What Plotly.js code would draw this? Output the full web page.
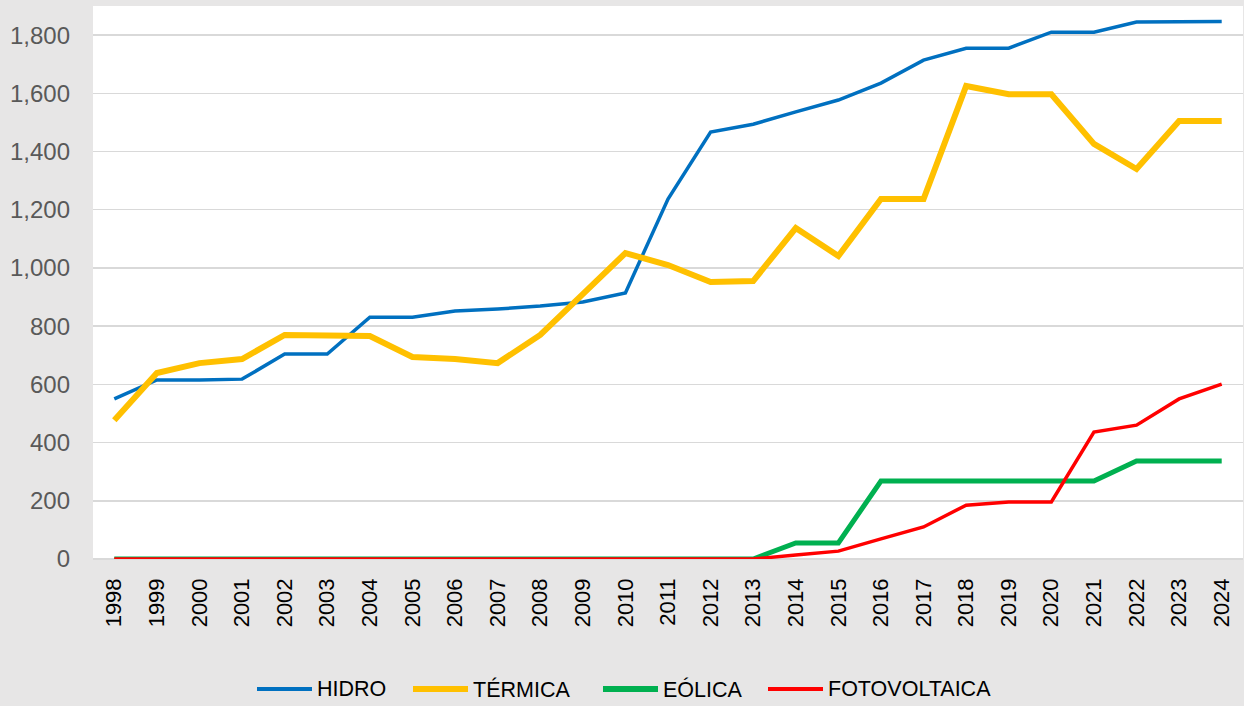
<!DOCTYPE html>
<html>
<head>
<meta charset="utf-8">
<script src="https://cdn.plot.ly/plotly-3.0.1.min.js"></script>
<style>html,body{margin:0;padding:0;background:#E7E6E6;}#chart{width:1244px;height:706px;}</style>
</head>
<body>
<div id="chart"></div>
<script>
var years = ["1998","1999","2000","2001","2002","2003","2004","2005","2006","2007","2008","2009","2010","2011","2012","2013","2014","2015","2016","2017","2018","2019","2020","2021","2022","2023","2024"];
var hidro = [550,615,615,618,704,704,831,831,852,859,869,883,914,1237,1467,1494,1536,1577,1635,1714,1755,1755,1810,1810,1845,1847,1847];
var termica = [477,639,673,687,770,770,766,694,687,673,770,910,1051,1010,952,955,1137,1041,1237,1237,1625,1597,1597,1426,1340,1505,1505];
var eolica = [0,0,0,0,0,0,0,0,0,0,0,0,0,0,0,0,55,55,268,268,268,268,268,268,337,337,337];
var fotovoltaica = [0,0,0,0,0,0,0,0,0,0,0,0,0,0,0,0,14,27,69,110,185,196,196,436,460,550,601];
var seriesNames = ["HIDRO","TÉRMICA","EÓLICA","FOTOVOLTAICA"];
var yTicks = [0,200,400,600,800,1000,1200,1400,1600,1800];
var yTickText = ["0","200","400","600","800","1,000","1,200","1,400","1,600","1,800"];

var FONT = "Liberation Sans, Arial, sans-serif";
var colors = ['#0070C0', '#FFC000', '#00B050', '#FF0000'];
var widths = [3.5, 6, 5, 3.5];
var legendWidths = [4, 6, 6, 4];
var values = [hidro, termica, eolica, fotovoltaica];

var data = values.map(function(v, i){
  return {x: years, y: v, name: seriesNames[i], type: 'scatter', mode: 'lines',
    line: {color: colors[i], width: widths[i]}, showlegend: false};
});

// custom legend (long line samples as in the original)
var W = 1244, H = 706, L = 93, R = 1, T = 6, B = 147;
var pw = W - L - R, ph = H - T - B;
function px2x(px){ return (px - L) / pw; }
function px2y(py){ return (H - B - py) / ph; }
var legStarts = [257, 413, 603, 768];
var legLineLen = 55, legY = 689;
var shapes = [], annotations = [];
seriesNames.forEach(function(n, i){
  shapes.push({type: 'line', xref: 'paper', yref: 'paper',
    x0: px2x(legStarts[i]), x1: px2x(legStarts[i] + legLineLen), y0: px2y(legY), y1: px2y(legY),
    line: {color: colors[i], width: legendWidths[i]}});
  annotations.push({xref: 'paper', yref: 'paper', x: px2x(legStarts[i] + legLineLen + 3), y: px2y(legY),
    xanchor: 'left', yanchor: 'middle', showarrow: false, text: n,
    font: {family: FONT, size: 21.5, color: '#000000'}});
});

var layout = {
  width: W, height: H,
  paper_bgcolor: '#E7E6E6', plot_bgcolor: '#FFFFFF',
  margin: {l: L, r: R, t: T, b: B},
  font: {family: FONT, color: '#000000'},
  showlegend: false,
  shapes: shapes, annotations: annotations,
  xaxis: {type: 'category', range: [-0.5, 26.5], tickangle: -90, showgrid: false, zeroline: false,
    showline: false, ticks: '', tickfont: {family: FONT, size: 22, color: '#000000'}, ticklabelstandoff: 14},
  yaxis: {range: [0, 1900], tickvals: yTicks, ticktext: yTickText, showgrid: true, gridcolor: '#D9D9D9', gridwidth: 1.5,
    zeroline: true, zerolinecolor: '#D9D9D9', zerolinewidth: 1.5, showline: false, ticks: '',
    tickfont: {family: FONT, size: 24, color: '#595959'}, ticklabelstandoff: 22}
};
Plotly.newPlot('chart', data, layout, {displayModeBar: false, staticPlot: true});
</script>
</body>
</html>
